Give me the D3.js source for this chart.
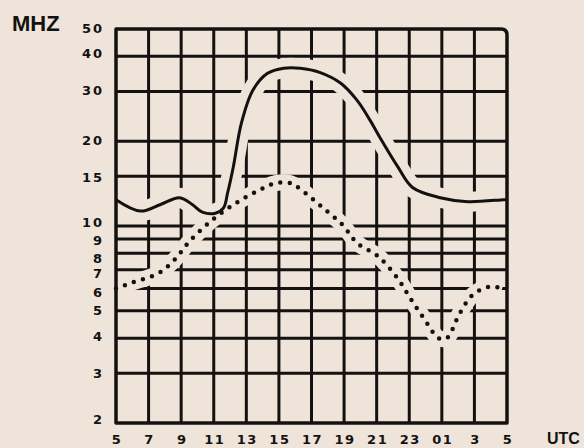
<!DOCTYPE html>
<html>
<head>
<meta charset="utf-8">
<script src="https://cdn.jsdelivr.net/npm/d3@7"></script>
<style>
  html, body { margin: 0; padding: 0; background: #eee4da; }
  svg { display: block; }
</style>
</head>
<body>
<div id="chart"></div>
<script>
// hours run from 05 UTC to 05 UTC next day (29 = 05 again)
const hourTicks = [5, 7, 9, 11, 13, 15, 17, 19, 21, 23, 25, 27, 29];
const hourLabels = ["5", "7", "9", "11", "13", "15", "17", "19", "21", "23", "01", "3", "5"];
const mhzTicks = [2, 3, 4, 5, 6, 7, 8, 9, 10, 15, 20, 30, 40, 50];

// upper (solid) curve
const solidHours = [5, 6.5, 7.7, 8.9, 9.7, 10.3, 11.1, 11.6, 11.85, 12.2, 12.7, 13.4, 14.3, 15.3, 16.3, 17.5, 18.8, 19.8, 20.6, 21.2, 22.3, 23.2, 24.9, 26.6, 28.8, 29];
const solidMhz = [12.4, 11.3, 11.9, 12.6, 11.9, 11.2, 11.1, 11.6, 13.1, 16.2, 23.2, 30.3, 34.8, 36.3, 36.3, 35.1, 32.1, 27.9, 23.7, 20.6, 16.2, 13.7, 12.6, 12.2, 12.4, 12.4];

// lower (dotted) curve
const dotHours = [5, 6.0, 7.6, 8.6, 9.5, 10.9, 12.4, 14.0, 14.8, 15.7, 16.4, 17.7, 18.9, 19.8, 21.1, 22.3, 23.1, 23.9, 24.8, 25.3, 26.1, 26.9, 28.0, 28.7];
const dotMhz = [6.0, 6.3, 6.8, 7.6, 8.8, 10.5, 12.1, 13.6, 14.2, 14.2, 13.4, 11.6, 10.1, 8.7, 7.8, 6.5, 5.5, 4.7, 4.0, 4.0, 4.9, 5.7, 6.1, 6.0];

const width = 584, height = 448;
const paper = "#eee4da", ink = "#141210";

const x = d3.scaleLinear().domain([5, 29]).range([116, 507]);
const y = d3.scaleLog().domain([2, 50]).range([423, 29]);

// the printed labels do not sit exactly on their lines
const labelNudge = {2: -4, 3: 0, 4: -2, 5: 0, 6: 4, 7: 4, 8: 5, 9: 2, 10: -4, 15: 1, 20: -1, 30: -1, 40: -3, 50: -1};

const svg = d3.select("#chart").append("svg")
  .attr("width", width)
  .attr("height", height)
  .style("background", paper);

// grid
const grid = svg.append("g").attr("stroke", ink).attr("stroke-width", 3);
grid.selectAll("line.h")
  .data(mhzTicks.slice(1, -1))
  .join("line")
  .attr("x1", x(5)).attr("x2", x(29))
  .attr("y1", d => y(d)).attr("y2", d => y(d));
grid.selectAll("line.v")
  .data(hourTicks.slice(1, -1))
  .join("line")
  .attr("x1", d => x(d)).attr("x2", d => x(d))
  .attr("y1", y(50)).attr("y2", y(2));

const solid = solidHours.map((h, i) => [h, solidMhz[i]]);
const dotted = dotHours.map((h, i) => [h, dotMhz[i]]);

const line = d3.line()
  .x(d => x(d[0]))
  .y(d => y(d[1]))
  .curve(d3.curveCatmullRom.alpha(0.5));

// paper halo so the grid breaks around the curves like the original
svg.append("path").attr("d", line(solid))
  .attr("fill", "none").attr("stroke", paper).attr("stroke-width", 20);
svg.append("path").attr("d", line(dotted))
  .attr("fill", "none").attr("stroke", paper).attr("stroke-width", 16);

svg.append("path").attr("d", line(solid))
  .attr("fill", "none").attr("stroke", ink).attr("stroke-width", 3);
svg.append("path").attr("d", line(dotted))
  .attr("fill", "none").attr("stroke", ink)
  .attr("stroke-width", 4.5)
  .attr("stroke-linecap", "round")
  .attr("stroke-dasharray", "0 9.5");

// frame with rounded top-right corner
const l = x(5), r = x(29), t = y(50), b = y(2), rad = 6;
svg.append("path")
  .attr("d", `M${l},${b}V${t}H${r - rad}Q${r},${t} ${r},${t + rad}V${b}Z`)
  .attr("fill", "none").attr("stroke", ink).attr("stroke-width", 3.5)
  .attr("stroke-linejoin", "round");

// y labels
svg.append("g")
  .selectAll("text")
  .data(mhzTicks)
  .join("text")
  .attr("x", 104)
  .attr("y", d => y(d) + labelNudge[d])
  .attr("text-anchor", "end")
  .attr("dominant-baseline", "central")
  .attr("font-family", "DejaVu Sans")
  .attr("font-weight", "bold")
  .attr("font-size", 13)
  .attr("letter-spacing", 2)
  .attr("fill", ink)
  .text(d => d);

// x labels
svg.append("g")
  .selectAll("text")
  .data(hourTicks)
  .join("text")
  .attr("x", (d, i) => x(d) + 1)
  .attr("y", 439)
  .attr("text-anchor", "middle")
  .attr("dominant-baseline", "central")
  .attr("font-family", "DejaVu Sans")
  .attr("font-weight", "bold")
  .attr("font-size", 13)
  .attr("letter-spacing", 1.5)
  .attr("fill", ink)
  .text((d, i) => hourLabels[i]);

svg.append("text")
  .attr("x", 12).attr("y", 31)
  .attr("font-family", "Liberation Sans")
  .attr("font-weight", "bold")
  .attr("font-size", 22)
  .attr("fill", ink)
  .text("MHZ");

svg.append("text")
  .attr("x", 547).attr("y", 444)
  .attr("font-family", "Liberation Sans")
  .attr("font-weight", "bold")
  .attr("font-size", 16)
  .attr("fill", ink)
  .text("UTC");
</script>
</body>
</html>
